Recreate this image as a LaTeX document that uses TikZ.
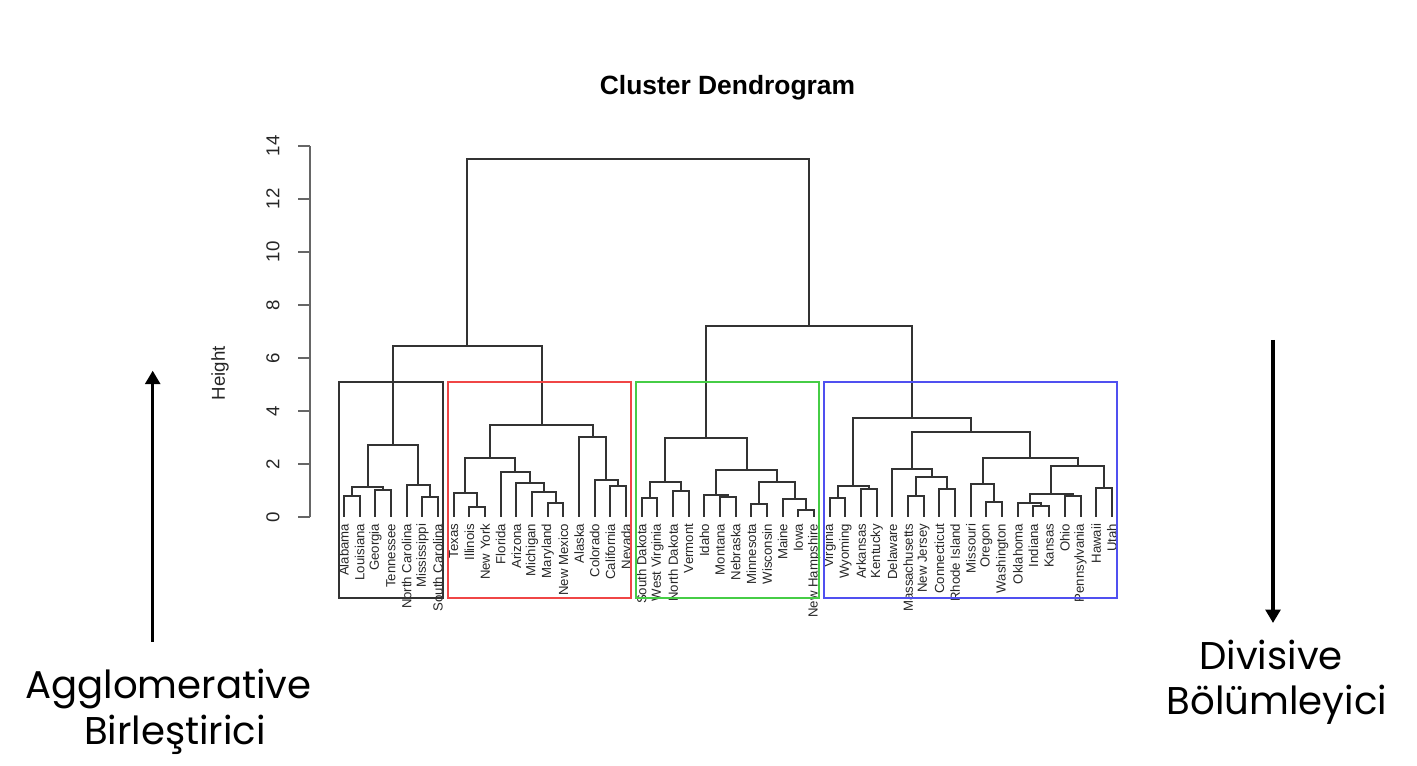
\documentclass[tikz,border=0pt]{standalone}
\usepackage{fontspec}
\setmainfont{Liberation Sans}
\newfontfamily\geofont{Poppins}
\usepackage{tikz}
\usetikzlibrary{arrows.meta, positioning, calc}

\definecolor{cutred}{RGB}{240,70,70}
\definecolor{cutgreen}{RGB}{70,205,70}
\definecolor{cutblue}{RGB}{80,80,240}

\tikzset{
  branch/.style={draw=black!80, line width=1.5pt},
  leaflab/.style={rotate=90, anchor=east, inner sep=0pt, text=black!85,
                  font=\fontsize{9.9}{10}\selectfont},
  ticklab/.style={rotate=90, inner sep=0pt, text=black!85,
                  font=\fontsize{14}{15}\selectfont},
  axisline/.style={draw=black!60, line width=1.2pt},
  cutbox/.style={line width=1.5pt},
  bigtext/.style={anchor=base, inner sep=0pt, font=\geofont\fontsize{29}{34}\selectfont},
  trend/.style={line width=2.5pt, -{Triangle[width=11pt, length=10pt]}},
}

% #1, #2 children, #3 name of the merge, #4 height
\newcommand{\joinpair}[4]{%
  \path ($(#1)!0.5!(#2)$) coordinate (#3-x) (0,#4) coordinate (#3-y);
  \coordinate (#3) at (#3-x |- #3-y);
  \draw[branch] (#1) |- (#3) -| (#2);
}

\begin{document}
\begin{tikzpicture}[x=0.75pt, y=0.75pt]
  \useasboundingbox (0,0) rectangle (1417,766);

  \node[anchor=base, inner sep=0pt, font=\bfseries\fontsize{19.8}{22}\selectfont] (title)
    at (727.5,671) {Cluster Dendrogram};

  \begin{scope}[xshift=246.25pt, yshift=186.75pt, x=11.7525pt, y=19.875pt]
    % height axis
    \draw[axisline] (-1.17,0) coordinate (ax0) -- (-1.17,14) coordinate (ax14);
    \foreach \v in {0,2,...,14} {
      \draw[axisline] (-1.17,\v) -- ++(-0.77,0);
      \node[ticklab] (tick\v) at (-3.54,\v) {\v};
    }
    \node[ticklab] (ylab) at (-6.91,5.43) {Height};

    % leaves
    \foreach \key/\name [count=\i] in {AL/Alabama, LA/Louisiana, GA/Georgia, TN/Tennessee,
        NC/North Carolina, MS/Mississippi, SC/South Carolina, TX/Texas, IL/Illinois,
        NY/New York, FL/Florida, AZ/Arizona, MI/Michigan, MD/Maryland, NM/New Mexico,
        AK/Alaska, CO/Colorado, CA/California, NV/Nevada, SD/South Dakota,
        WV/West Virginia, ND/North Dakota, VT/Vermont, ID/Idaho, MT/Montana, NE/Nebraska,
        MN/Minnesota, WI/Wisconsin, ME/Maine, IA/Iowa, NH/New Hampshire, VA/Virginia,
        WY/Wyoming, AR/Arkansas, KY/Kentucky, DE/Delaware, MA/Massachusetts,
        NJ/New Jersey, CT/Connecticut, RI/Rhode Island, MO/Missouri, OR/Oregon,
        WA/Washington, OK/Oklahoma, IN/Indiana, KS/Kansas, OH/Ohio, PA/Pennsylvania,
        HI/Hawaii, UT/Utah} {
      \coordinate (\key) at (\i,0);
      \node[leaflab] (lab\key) at (\i,-0.25) {\name};
    }

    % first group
    \joinpair{AL}{LA}{m1}{0.79}
    \joinpair{GA}{TN}{m2}{1.02}
    \joinpair{m1}{m2}{m3}{1.12}
    \joinpair{MS}{SC}{m4}{0.77}
    \joinpair{NC}{m4}{m5}{1.21}
    \joinpair{m3}{m5}{c1}{2.7}

    % second group
    \joinpair{IL}{NY}{m6}{0.39}
    \joinpair{TX}{m6}{m7}{0.92}
    \joinpair{MD}{NM}{m8}{0.54}
    \joinpair{MI}{m8}{m9}{0.96}
    \joinpair{AZ}{m9}{m10}{1.27}
    \joinpair{FL}{m10}{m11}{1.69}
    \joinpair{m7}{m11}{m12}{2.24}
    \joinpair{CA}{NV}{m13}{1.18}
    \joinpair{CO}{m13}{m14}{1.40}
    \joinpair{AK}{m14}{m15}{3.01}
    \joinpair{m12}{m15}{c2}{3.48}

    % third group
    \joinpair{SD}{WV}{m16}{0.73}
    \joinpair{ND}{VT}{m17}{0.99}
    \joinpair{m16}{m17}{m18}{1.33}
    \joinpair{MT}{NE}{m19}{0.75}
    \joinpair{ID}{m19}{m20}{0.83}
    \joinpair{MN}{WI}{m21}{0.49}
    \joinpair{IA}{NH}{m22}{0.26}
    \joinpair{ME}{m22}{m23}{0.67}
    \joinpair{m21}{m23}{m24}{1.32}
    \joinpair{m20}{m24}{m25}{1.77}
    \joinpair{m18}{m25}{c3}{2.98}

    % fourth group
    \joinpair{VA}{WY}{m26}{0.70}
    \joinpair{AR}{KY}{m27}{1.04}
    \joinpair{m26}{m27}{m28}{1.17}
    \joinpair{MA}{NJ}{m29}{0.79}
    \joinpair{CT}{RI}{m30}{1.06}
    \joinpair{m29}{m30}{m31}{1.52}
    \joinpair{DE}{m31}{m32}{1.81}
    \joinpair{OR}{WA}{m33}{0.58}
    \joinpair{MO}{m33}{m34}{1.25}
    \joinpair{IN}{KS}{m35}{0.43}
    \joinpair{OK}{m35}{m36}{0.54}
    \joinpair{OH}{PA}{m37}{0.79}
    \joinpair{m36}{m37}{m38}{0.86}
    \joinpair{HI}{UT}{m39}{1.08}
    \joinpair{m38}{m39}{m40}{1.94}
    \joinpair{m34}{m40}{m41}{2.21}
    \joinpair{m32}{m41}{m42}{3.22}
    \joinpair{m28}{m42}{c4}{3.72}

    \joinpair{c1}{c2}{left}{6.45}
    \joinpair{c3}{c4}{right}{7.2}
    \joinpair{left}{right}{root}{13.5}

    % cut at four clusters
    \draw[cutbox, black!80] (0.66,-3.06) rectangle (7.33,5.085);
    \draw[cutbox, cutred] (7.66,-3.06) rectangle (19.33,5.085);
    \draw[cutbox, cutgreen] (19.66,-3.06) rectangle (31.33,5.085);
    \draw[cutbox, cutblue] (31.66,-3.06) rectangle (50.33,5.085);
  \end{scope}

  \coordinate (upfrom) at (152.7,124.3);
  \coordinate (upto) at (152.7,395.3);
  \draw[trend] (upfrom) -- (upto);
  \coordinate (downfrom) at (1273,426);
  \coordinate (downto) at (1273,143);
  \draw[trend] (downfrom) -- (downto);

  \node[bigtext] (agglo) at (168.5,67.7) {Agglomerative};
  \node[bigtext] (agglotr) at (175,21.7) {Birleştirici};
  \node[bigtext] (divis) at (1271,96) {Divisive};
  \node[bigtext] (divistr) at (1277,51) {Bölümleyici};
\end{tikzpicture}
\end{document}
